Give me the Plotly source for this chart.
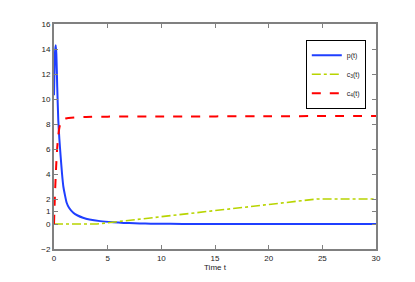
import plotly.graph_objects as go

# p(t)
t_p = [0, 0.05, 0.1, 0.16, 0.22, 0.3, 0.4, 0.5, 0.62, 0.75, 0.87, 1.0, 1.18, 1.4, 1.8, 2.2, 2.7, 3.3, 4.3, 5.5, 6.5, 7.5, 8.5, 9.5, 12, 20, 30]
p_vals = [10.3, 12.3, 13.8, 14.3, 13.6, 11.0, 8.3, 6.8, 5.4, 4.0, 3.0, 2.4, 1.7, 1.3, 0.9, 0.68, 0.5, 0.36, 0.23, 0.14, 0.09, 0.06, 0.04, 0.02, 0.01, 0.01, 0.01]

# c3(t)
t_c3 = [0, 4.0, 24.5, 30]
c3_vals = [0, 0, 2.0, 2.0]

# c4(t)
t_c4 = [0, 0.1, 0.2, 0.3, 0.4, 0.5, 0.6, 0.8, 1.0, 1.2, 1.6, 2.2, 3.0, 5, 10, 20, 30]
c4_vals = [0, 2.6, 4.6, 6.1, 7.1, 7.7, 8.05, 8.3, 8.42, 8.46, 8.5, 8.54, 8.57, 8.59, 8.6, 8.62, 8.65]

x_ticks = [0, 5, 10, 15, 20, 25, 30]
y_ticks = [-2, 0, 1, 2, 4, 6, 8, 10, 12, 14, 16]

FONT = "Liberation Sans, Arial"

fig = go.Figure()
fig.add_trace(go.Scatter(x=t_p, y=p_vals, mode="lines", name="p(t)",
                         line=dict(color="#1f3fff", width=2, shape="spline", smoothing=0.6)))
fig.add_trace(go.Scatter(x=t_c3, y=c3_vals, mode="lines", name="c<sub>3</sub>(t)",
                         line=dict(color="#b8d400", width=1.6, dash="dashdot")))
fig.add_trace(go.Scatter(x=t_c4, y=c4_vals, mode="lines", name="c<sub>4</sub>(t)",
                         line=dict(color="#ff0000", width=2, dash="dash", shape="spline", smoothing=0.6)))

axis_common = dict(showline=True, mirror="ticks", linecolor="#808080", linewidth=2,
                   ticks="inside", ticklen=4, tickcolor="#808080", tickwidth=1,
                   showgrid=False, zeroline=False,
                   tickfont=dict(family=FONT, size=8, color="#222"))

fig.update_layout(
    width=407, height=274,
    margin=dict(l=46, r=39, t=13, b=32),
    paper_bgcolor="white", plot_bgcolor="white",
    showlegend=True,
    legend=dict(x=0.782, y=0.93, xanchor="left", yanchor="top",
                bordercolor="#000", borderwidth=1, bgcolor="white",
                font=dict(family=FONT, size=7, color="#222"),
                itemwidth=30, tracegroupgap=0),
    xaxis=dict(range=[0, 30], tickvals=x_ticks,
               title=dict(text="Time t", font=dict(family=FONT, size=8, color="#222"), standoff=2),
               **axis_common),
    yaxis=dict(range=[-2, 16], tickvals=y_ticks, **axis_common),
)

fig.write_html("out.html")
